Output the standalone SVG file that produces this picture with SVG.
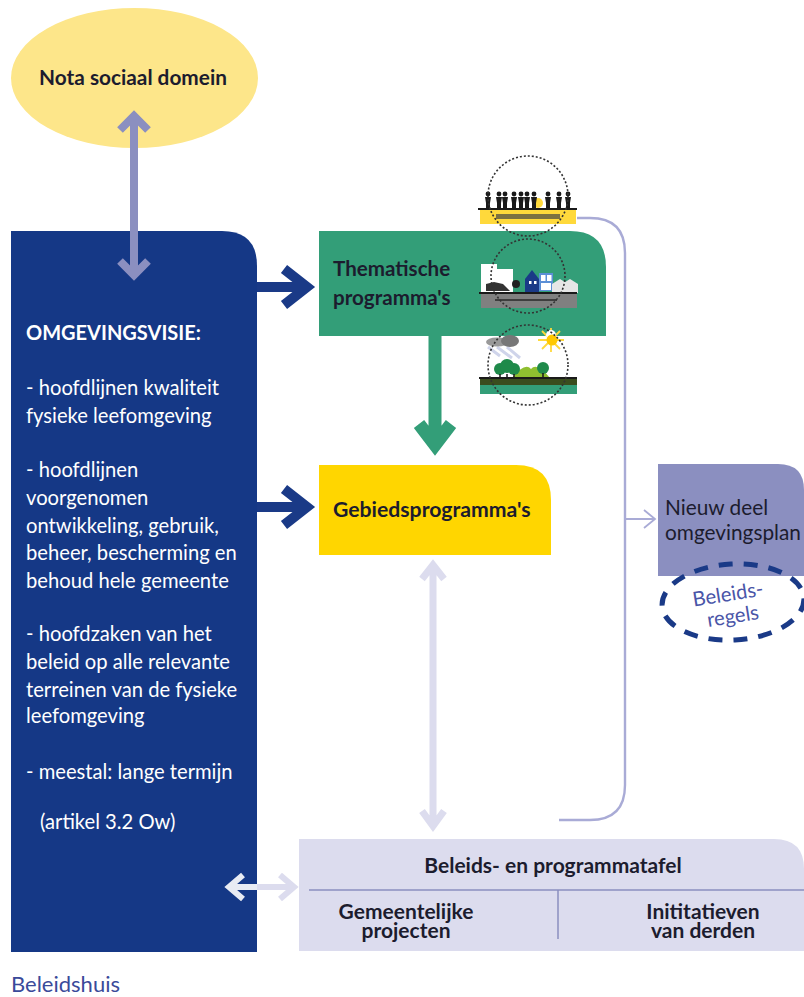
<svg xmlns="http://www.w3.org/2000/svg" width="804" height="997" viewBox="0 0 804 997">
<style>
text{font-family:"Lato","Liberation Sans",sans-serif;font-size:20.2px;fill:#1c1c2e}
.w{fill:#fff}
.b{font-weight:700;font-size:20.6px}
.t{font-weight:700;font-size:21px}
.c{text-anchor:middle}
.dot{fill:none;stroke:#333;stroke-width:1.6;stroke-dasharray:2 2}
.k{fill:#1a1a1a}
</style>
<defs>
<g id="pers"><circle cx="0" cy="-14" r="2.4" class="k"/><path d="M-3-11H3L2-5V0H-2V-5Z" class="k"/></g>
<g id="huis"><path d="M-8-9L0-14L8-9V0H-8Z" fill="#e6e6e6"/></g>
</defs>
<g id="connectors" fill="none">
<path d="M134 118V272M120 130L134 116L148 130" stroke="#8b8fc0" stroke-width="8"/>
<path d="M257 287H306M284 269L307 287L284 305" stroke="#1a3a87" stroke-width="10"/>
<path d="M257 507H306M284 489L307 507L284 525" stroke="#1a3a87" stroke-width="10"/>
<path d="M435 335V444M419 424L435 445L451 424" stroke="#339e78" stroke-width="13"/>
<path d="M433 566V824M422 579L433 565L444 579M422 811L433 826L444 811" stroke="#dcdcee" stroke-width="7"/>
<path d="M577 218H590Q625 218 625 253V785Q625 820 590 820H559" stroke="#a9abd6" stroke-width="2.4"/>
<path d="M625 519H655M644 510L655 519L644 528" stroke="#a9abd6" stroke-width="1.8"/>
</g>
<g id="nota"><ellipse cx="134.500" cy="78" rx="123.500" ry="70" fill="#fde68a"/><text class="c" style="font-weight:700;font-size:20.800px" x="133" y="85">Nota sociaal domein</text></g>
<g id="arrow-top"><path d="M134 118V150M120 130L134 116L148 130" stroke="#8b8fc0" stroke-width="8" fill="none"/></g>
<g id="omgevingsvisie"><path d="M11 231H222Q257 231 257 266V952H11Z" fill="#153886"/>
<path d="M134 231V272M120 261L134 275L148 261" stroke="#8b8fc0" stroke-width="8" fill="none"/>
<path d="M229 887H257M243 875L229 887L243 899" stroke="#fff" stroke-width="6" fill="none" opacity=".9"/>
<text class="w" style="font-weight:700;font-size:20px" x="26" y="340">OMGEVINGSVISIE:</text>
<text class="w" x="26" y="395">- hoofdlijnen kwaliteit</text>
<text class="w" x="26" y="423">fysieke leefomgeving</text>
<text class="w" x="26" y="477">- hoofdlijnen</text>
<text class="w" x="26" y="505">voorgenomen</text>
<text class="w" x="26" y="533">ontwikkeling, gebruik,</text>
<text class="w" x="26" y="560">beheer, bescherming en</text>
<text class="w" x="26" y="588">behoud hele gemeente</text>
<text class="w" x="26" y="641">- hoofdzaken van het</text>
<text class="w" x="26" y="669">beleid op alle relevante</text>
<text class="w" x="26" y="697">terreinen van de fysieke</text>
<text class="w" x="26" y="723">leefomgeving</text>
<text class="w" x="26" y="779">- meestal: lange termijn</text>
<text class="w" x="40" y="829">(artikel 3.2 Ow)</text>
</g>
<g id="thematisch"><path d="M319 231H570Q606 231 606 267V336H319Z" fill="#339e78"/>
<text class="b" x="333" y="276">Thematische</text><text class="b" x="333" y="305">programma's</text></g>
<g id="gebied"><path d="M319 465H516Q551 465 551 500V555H319Z" fill="#ffd600"/><text class="t" style="font-size:21.200px" x="333" y="517">Gebiedsprogramma's</text></g>
<g id="nieuw"><path d="M658 464H778Q804 464 804 490V576H658Z" fill="#8b8fc0"/>
<text style="font-size:20.800px" x="665" y="515">Nieuw deel</text><text style="font-size:20.800px" x="665" y="540">omgevingsplan</text></g>
<g id="beleidsregels"><ellipse cx="733" cy="602" rx="71" ry="38" fill="none" stroke="#1a3a87" stroke-width="5" stroke-dasharray="14 11" transform="rotate(-3 733 602)"/>
<text class="c" x="729" y="601" style="fill:#4a55a8" transform="rotate(-9 729 601)">Beleids-</text>
<text class="c" x="734" y="623" style="fill:#4a55a8" transform="rotate(-9 734 623)">regels</text></g>
<g id="tafel"><path d="M299 839H774Q804 839 804 869V951H299Z" fill="#dcdcee"/>
<path d="M309 890H804M558 890V939" stroke="#8b8fc0" stroke-width="1.5" fill="none"/>
<text class="t c" x="553" y="873">Beleids- en programmatafel</text>
<text class="t c" x="406" y="919">Gemeentelijke</text><text class="t c" x="406" y="938">projecten</text>
<text class="t c" x="703" y="919">Inititatieven</text><text class="t c" x="703" y="938">van derden</text>
<path d="M280 875L294 887L280 899M257 887H294" stroke="#dcdcee" stroke-width="6" fill="none"/></g>
<g id="icon-mensen"><rect x="480" y="210" width="96" height="14" fill="#ffd93b"/>
<rect x="496" y="214" width="64" height="5" fill="#444" opacity=".7"/>
<circle cx="538" cy="203" r="5" fill="#ffd93b"/>
<use href="#pers" x="488" y="208"/><use href="#pers" x="499" y="208"/><use href="#pers" x="505" y="208"/><use href="#pers" x="514" y="208"/><use href="#pers" x="521" y="208"/><use href="#pers" x="527" y="208"/><use href="#pers" x="534" y="208"/><use href="#pers" x="548" y="208"/><use href="#pers" x="559" y="208"/><use href="#pers" x="568" y="208"/>
<rect x="478" y="208" width="99" height="2" class="k"/>
<circle cx="528" cy="196" r="40" class="dot"/></g>
<g id="icon-stad"><rect x="481" y="294" width="96" height="14" fill="#808080"/>
<rect x="481" y="264" width="16" height="29" fill="#fff"/><rect x="497" y="269" width="16" height="24" fill="#fff"/>
<path d="M486 291V284L494 282L503 284L510 291Z" fill="#333"/><circle cx="516" cy="284" r="4" fill="#222"/>
<path d="M525 279L532 270L539 279V292H525Z" fill="#1a3a87"/><rect x="529" y="281" width="2.500" height="3" fill="#fff"/><rect x="534" y="281" width="2.500" height="3" fill="#fff"/>
<rect x="539" y="273" width="14" height="18" fill="#5b8fd6"/><rect x="541" y="275" width="4.500" height="6" fill="#fff"/><rect x="547" y="275" width="4.500" height="6" fill="#fff"/><rect x="541" y="283" width="10" height="7" fill="#fff"/>
<use href="#huis" x="560" y="293"/><use href="#huis" x="570" y="293"/>
<rect x="479" y="292" width="98" height="2" class="k"/><rect x="495" y="299" width="62" height="2" fill="#222" opacity=".7"/>
<circle cx="528" cy="276" r="37" class="dot"/></g>
<g id="icon-natuur"><rect x="480" y="378" width="97" height="16" fill="#339e78"/><rect x="480" y="379" width="97" height="6" fill="#3a4d1e"/>
<path d="M512 378Q525 362 531 369Q537 362 550 378Z" fill="#8fbf30"/>
<circle cx="500" cy="369" r="6" fill="#1f8a4a"/><circle cx="514" cy="369" r="6" fill="#1f8a4a"/><circle cx="507" cy="366" r="7" fill="#1f8a4a"/>
<circle cx="543" cy="368" r="6" fill="#1f8a4a"/><path d="M500 374V378M507 374V378M514 374V378M543 373V378" stroke="#1a1a1a" stroke-width="1.500"/>
<path d="M488 347L500 356M497 347L512 358M507 347L520 358" stroke="#cfd4ea" stroke-width="3"/>
<ellipse cx="497" cy="342" rx="11" ry="4.500" fill="#999"/><ellipse cx="510" cy="341" rx="9" ry="6" fill="#777"/>
<path d="M538 340H564M551 328V352M542 331L560 349M560 331L542 349" stroke="#ffd93b" stroke-width="1.800"/><circle cx="551" cy="335" r="5" fill="#fff"/><circle cx="552" cy="340" r="5.500" fill="#ffc800"/>
<rect x="479" y="377" width="98" height="2" class="k"/>
<circle cx="528" cy="365" r="40" class="dot"/></g>
<text x="11" y="992" style="fill:#3a4a9a;font-size:22px">Beleidshuis</text>
</svg>
